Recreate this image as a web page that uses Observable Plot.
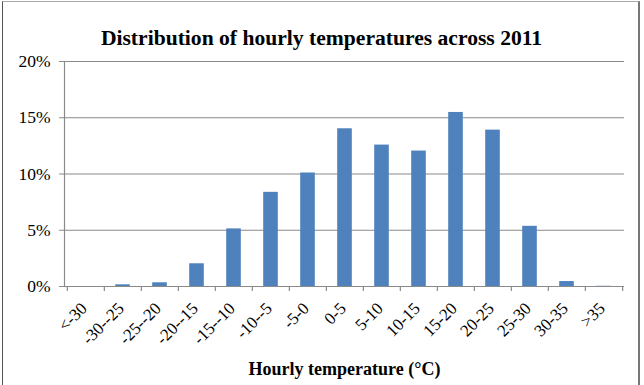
<!DOCTYPE html>
<html><head><meta charset="utf-8">
<script src="https://cdn.jsdelivr.net/npm/d3@7"></script>
<script src="https://cdn.jsdelivr.net/npm/@observablehq/plot@0.6"></script>
<style>
body{margin:0;background:#fff}
#chart{position:relative;width:644px;height:385px;overflow:hidden}
#chart svg{display:block}
#border{position:absolute;left:2px;top:1px;width:635px;height:400px;border-left:1.5px solid #555;border-top:1px solid #aaa;border-right:2px solid #777;pointer-events:none}
</style></head><body><div id="chart"><div id="border"></div></div>
<script>
const categories = ["<-30","-30--25","-25--20","-20--15","-15--10","-10--5","-5-0","0-5","5-10","10-15","15-20","20-25","25-30","30-35",">35"];
const shares = [0, 0.15, 0.33, 2.02, 5.12, 8.37, 10.09, 14.02, 12.57, 12.04, 15.47, 13.9, 5.35, 0.44, 0.02];
const yTicks = [0, 5, 10, 15, 20];
const title = "Distribution of hourly temperatures across 2011";
const xLabel = "Hourly temperature (°C)";

const data = categories.map((c, i) => ({c, v: shares[i]}));
const W = 644, H = 385, mL = 64, mR = 20, mT = 61, mB = 99;
const bw = (W - mL - mR) / categories.length;
const serif = "'Liberation Serif', 'Times New Roman', Times, serif";
const grey = "#8a8a8a";

const plot = Plot.plot({
  width: W, height: H,
  marginTop: mT, marginBottom: mB, marginLeft: mL, marginRight: mR,
  style: {fontFamily: serif, background: "transparent", color: "#000"},
  x: {domain: categories, padding: 0, axis: null},
  y: {domain: [0, 20], axis: null},
  marks: [
    Plot.ruleY(yTicks, {stroke: grey, strokeWidth: 1.2, insetLeft: -5}),
    Plot.frame({anchor: "left", stroke: grey, strokeWidth: 1.2}),
    Plot.ruleX(categories, {x: d => d, dx: -bw / 2, y1: 0, y2: 0, insetBottom: -5, stroke: grey, strokeWidth: 1.2}),
    Plot.ruleX(categories.slice(-1), {x: d => d, dx: bw / 2, y1: 0, y2: 0, insetBottom: -5, stroke: grey, strokeWidth: 1.2}),
    Plot.barY(data, {x: "c", y: "v", fill: "#4f81bd", insetLeft: 11.2, insetRight: 11.2}),
    Plot.text(yTicks, {y: d => d, text: d => d + "%", frameAnchor: "left", textAnchor: "end", dx: -14, fontSize: 17.5, fill: "#000"}),
    Plot.text(categories, {x: d => d, text: d => d, frameAnchor: "bottom", rotate: -45, textAnchor: "end", dx: 2, dy: 23, fontSize: 17, fill: "#000"}),
    Plot.text([title], {frameAnchor: "top", dx: -23, dy: -32, fontWeight: "bold", fontSize: 21.6, fill: "#000"}),
    Plot.text([xLabel], {frameAnchor: "bottom", dy: 88, fontWeight: "bold", fontSize: 18, fill: "#000"})
  ]
});
document.getElementById("chart").prepend(plot);
</script>
</body></html>
